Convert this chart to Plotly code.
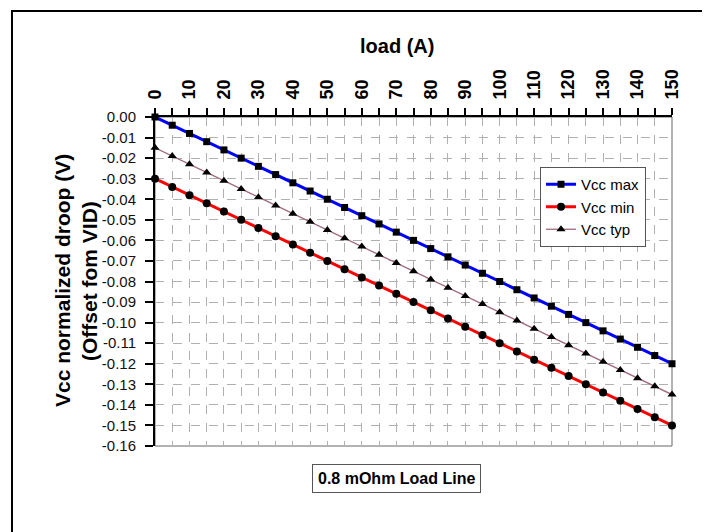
import plotly.graph_objects as go

load_a = [0, 5, 10, 15, 20, 25, 30, 35, 40, 45, 50, 55, 60, 65, 70, 75, 80, 85, 90, 95,
          100, 105, 110, 115, 120, 125, 130, 135, 140, 145, 150]
vcc_max = [0.000, -0.004, -0.008, -0.012, -0.016, -0.020, -0.024, -0.028, -0.032, -0.036,
           -0.040, -0.044, -0.048, -0.052, -0.056, -0.060, -0.064, -0.068, -0.072, -0.076,
           -0.080, -0.084, -0.088, -0.092, -0.096, -0.100, -0.104, -0.108, -0.112, -0.116, -0.120]
vcc_min = [-0.030, -0.034, -0.038, -0.042, -0.046, -0.050, -0.054, -0.058, -0.062, -0.066,
           -0.070, -0.074, -0.078, -0.082, -0.086, -0.090, -0.094, -0.098, -0.102, -0.106,
           -0.110, -0.114, -0.118, -0.122, -0.126, -0.130, -0.134, -0.138, -0.142, -0.146, -0.150]
vcc_typ = [-0.015, -0.019, -0.023, -0.027, -0.031, -0.035, -0.039, -0.043, -0.047, -0.051,
           -0.055, -0.059, -0.063, -0.067, -0.071, -0.075, -0.079, -0.083, -0.087, -0.091,
           -0.095, -0.099, -0.103, -0.107, -0.111, -0.115, -0.119, -0.123, -0.127, -0.131, -0.135]

x_tick_vals = [0, 10, 20, 30, 40, 50, 60, 70, 80, 90, 100, 110, 120, 130, 140, 150]
x_tick_text = ["0", "10", "20", "30", "40", "50", "60", "70", "80", "90", "100", "110",
               "120", "130", "140", "150"]
y_tick_vals = [0.00, -0.01, -0.02, -0.03, -0.04, -0.05, -0.06, -0.07, -0.08, -0.09,
               -0.10, -0.11, -0.12, -0.13, -0.14, -0.15, -0.16]
y_tick_text = ["0.00", "-0.01", "-0.02", "-0.03", "-0.04", "-0.05", "-0.06", "-0.07", "-0.08",
               "-0.09", "-0.10", "-0.11", "-0.12", "-0.13", "-0.14", "-0.15", "-0.16"]

FONT = "Liberation Sans, Arial, sans-serif"

fig = go.Figure()
fig.add_trace(go.Scatter(x=load_a, y=vcc_max, name="Vcc max", mode="lines+markers",
                         line=dict(color="#0000ff", width=3),
                         marker=dict(symbol="square", size=7, color="black"),
                         cliponaxis=False))
fig.add_trace(go.Scatter(x=load_a, y=vcc_min, name="Vcc min", mode="lines+markers",
                         line=dict(color="#ff0000", width=3),
                         marker=dict(symbol="circle", size=8, color="black"),
                         cliponaxis=False))
fig.add_trace(go.Scatter(x=load_a, y=vcc_typ, name="Vcc typ", mode="lines+markers",
                         line=dict(color="#a06880", width=1.3),
                         marker=dict(symbol="triangle-up", size=8, color="black"),
                         cliponaxis=False))

# page body has an 8px margin: the figure starts at (8, 8) in the window
OFF = 8
W, H = 710 - OFF, 532 - OFF
L, R, T, B = 155 - OFF, 38, 117 - OFF, 86
pw, ph = W - L - R, H - T - B


def px(xw):
    return (xw - OFF - L) / pw


def py(yw):
    return 1 - (yw - OFF - T) / ph


fig.update_layout(
    width=W, height=H,
    margin=dict(l=L, r=R, t=T, b=B),
    paper_bgcolor="white", plot_bgcolor="white",
    font=dict(family=FONT, color="black"),
    showlegend=True,
    legend=dict(x=px(540), y=py(167), xanchor="left", yanchor="top",
                bgcolor="white", bordercolor="#555555", borderwidth=1,
                font=dict(size=15, family=FONT), tracegroupgap=0,
                itemwidth=30),
    xaxis=dict(side="top", range=[0, 150], tickvals=x_tick_vals, ticktext=x_tick_text,
               tickangle=-90, tickfont=dict(size=18, family=FONT, weight="bold"),
               ticks="outside", ticklen=7, tickwidth=1.5, tickcolor="black",
               ticklabelstandoff=5,
               showline=True, linecolor="black", linewidth=2,
               showgrid=True, gridcolor="#b0b0b0", griddash="dash", gridwidth=1,
               minor=dict(dtick=5, tick0=0, ticks="outside", ticklen=7, tickwidth=1.5,
                          tickcolor="black", showgrid=True, gridcolor="#b0b0b0",
                          griddash="dash", gridwidth=1),
               zeroline=False),
    yaxis=dict(range=[-0.16, 0], tickvals=y_tick_vals, ticktext=y_tick_text,
               tickfont=dict(size=15, family=FONT, color="#111111"),
               ticks="outside", ticklen=8, tickwidth=1.5, tickcolor="black",
               ticklabelstandoff=6,
               showline=True, linecolor="black", linewidth=2,
               showgrid=True, gridcolor="#b0b0b0", griddash="dash", gridwidth=1,
               zeroline=False),
)

# plot area border (right & bottom gray)
fig.add_shape(type="rect", xref="paper", yref="paper", x0=0, y0=0, x1=1, y1=1,
              line=dict(color="#666666", width=1), layer="below")
# outer chart border (cut off at right and bottom)
fig.add_shape(type="rect", xref="paper", yref="paper",
              x0=px(12), y0=py(560), x1=px(740), y1=py(11),
              line=dict(color="black", width=2))

fig.add_annotation(text="<b>load (A)</b>", xref="paper", yref="paper",
                   x=px(397), y=py(46), showarrow=False,
                   font=dict(size=20, family=FONT), xanchor="center", yanchor="middle")
fig.add_annotation(text="<b>Vcc normalized droop (V)</b>", xref="paper", yref="paper",
                   x=px(62), y=py(281), showarrow=False, textangle=-90,
                   font=dict(size=21, family=FONT), xanchor="center", yanchor="middle")
fig.add_annotation(text="<b>(Offset fom VID)</b>", xref="paper", yref="paper",
                   x=px(89), y=py(281), showarrow=False, textangle=-90,
                   font=dict(size=21, family=FONT), xanchor="center", yanchor="middle")
fig.add_annotation(text="<b>0.8 mOhm Load Line</b>", xref="paper", yref="paper",
                   x=px(396), y=py(478.5), showarrow=False,
                   font=dict(size=16, family=FONT), xanchor="center", yanchor="middle",
                   bordercolor="#555555", borderwidth=1, borderpad=5, bgcolor="white")

fig.write_html("out.html")
